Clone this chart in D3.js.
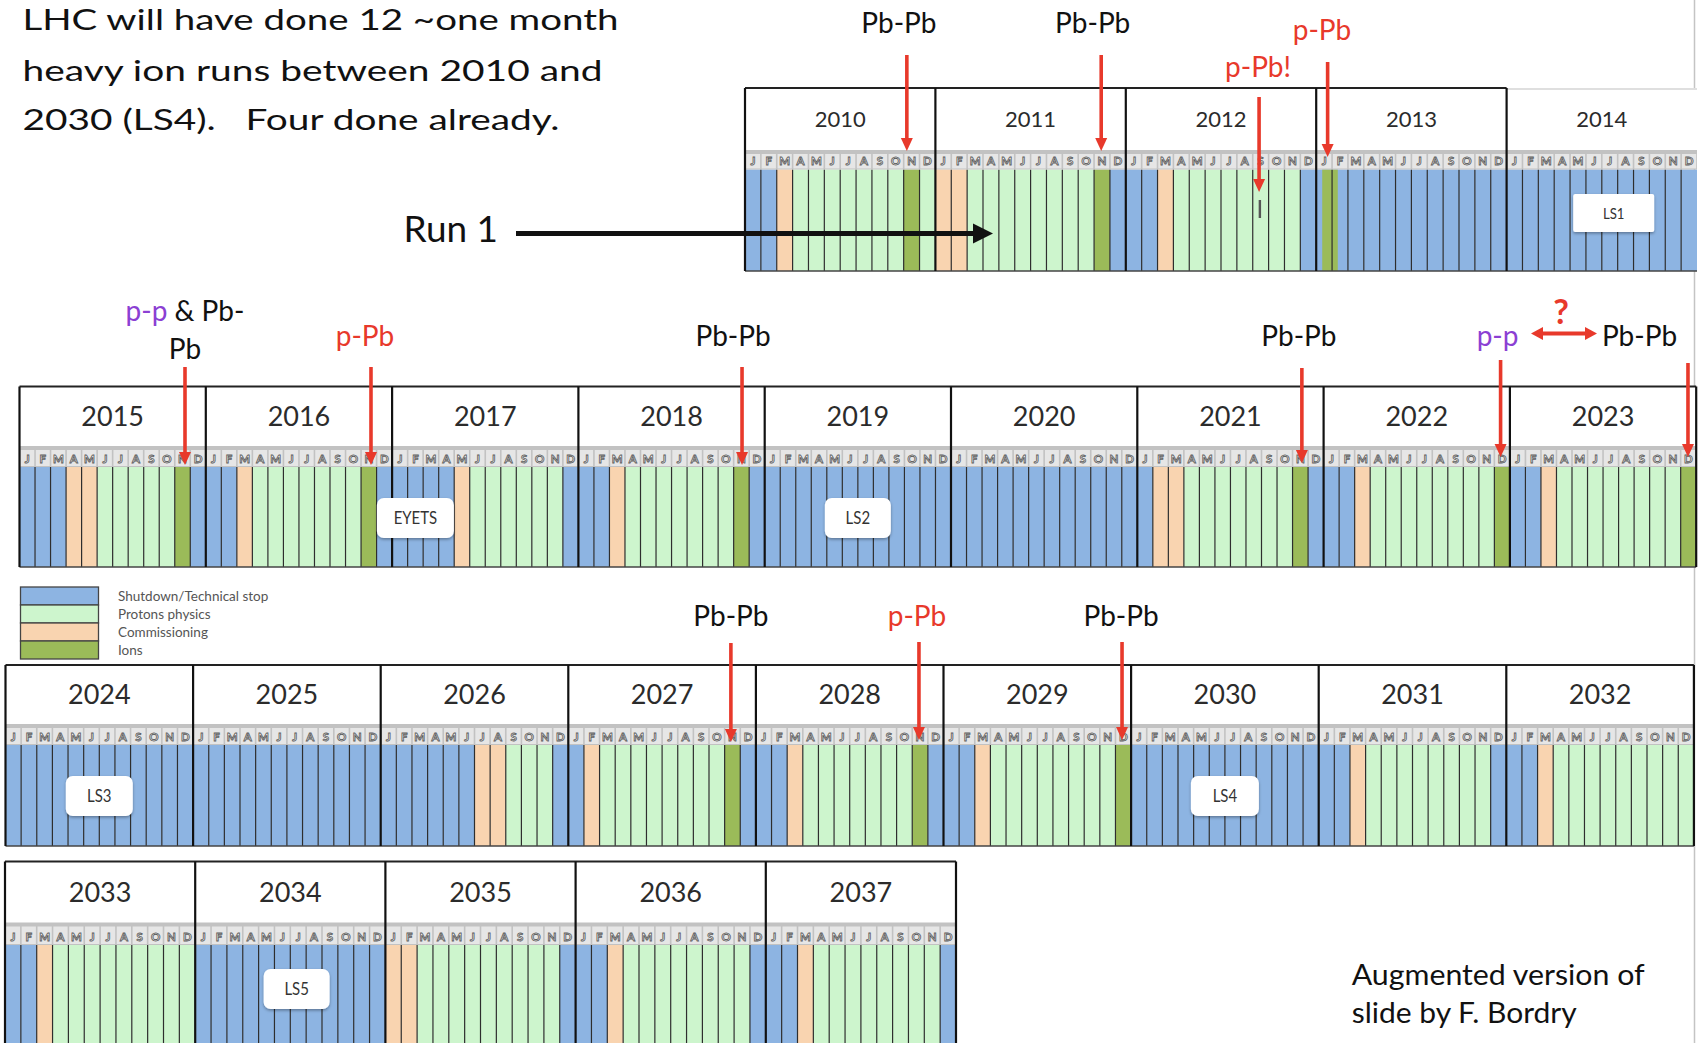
<!DOCTYPE html>
<html><head><meta charset="utf-8">
<script src="https://cdn.jsdelivr.net/npm/d3@7"></script>
<style>html,body{margin:0;padding:0;background:#fff;} svg{display:block;}</style>
</head><body>
<svg id="c" width="1698" height="1043"></svg>
<script>
// ---------------- DATA ----------------
const monthLabels = ["J","F","M","A","M","J","J","A","S","O","N","D"];
const years = [2010,2011,2012,2013,2014,2015,2016,2017,2018,2019,2020,2021,2022,2023,
               2024,2025,2026,2027,2028,2029,2030,2031,2032,2033,2034,2035,2036,2037];
const rowYears = [
  [2010,2011,2012,2013,2014],
  [2015,2016,2017,2018,2019,2020,2021,2022,2023],
  [2024,2025,2026,2027,2028,2029,2030,2031,2032],
  [2033,2034,2035,2036,2037]
];
// S = shutdown/technical stop, P = protons physics, C = commissioning, I = ions (one letter per month)
const monthStates = [
  "SSCPPPPPPPIP", // 2010
  "CCPPPPPPPPIS", // 2011
  "SSCPPPPPPPPS", // 2012
  "SSSSSSSSSSSS", // 2013
  "SSSSSSSSSSSS", // 2014
  "SSSCCPPPPPIS", // 2015
  "SSCPPPPPPPIS", // 2016
  "SSSSCPPPPPPS", // 2017
  "SSCPPPPPPPIS", // 2018
  "SSSSSSSSSSSS", // 2019
  "SSSSSSSSSSSS", // 2020
  "SCCPPPPPPPIS", // 2021
  "SSCPPPPPPPPI", // 2022
  "SSCPPPPPPPPI", // 2023
  "SSSSSSSSSSSS", // 2024
  "SSSSSSSSSSSS", // 2025
  "SSSSSSCCPPPS", // 2026
  "SCPPPPPPPPIS", // 2027
  "SSCPPPPPPPIS", // 2028
  "SSCPPPPPPPPI", // 2029
  "SSSSSSSSSSSS", // 2030
  "SSCPPPPPPPPS", // 2031
  "SSCPPPPPPPPP", // 2032
  "SSCPPPPPPPPP", // 2033
  "SSSSSSSSSSSS", // 2034
  "CCPPPPPPPPPS", // 2035
  "SSCPPPPPPPPS", // 2036
  "SSCPPPPPPPPS"  // 2037
];
// runs that do not start on a month boundary (year, start month, end month, state)
const partialYears  = [2013];
const partialStarts = [0.38];
const partialEnds   = [1.36];
const partialStates = ["I"];
// short pilot p-Pb run in 2012
const pilotYear = 2012, pilotMonth = 8.45;

const stateKeys   = ["S","P","C","I"];
const stateNames  = ["Shutdown/Technical stop","Protons physics","Commissioning","Ions"];

// long shutdown / stop labels
const stopLabels = ["LS1","EYETS","LS2","LS3","LS4","LS5"];
const stopYears  = [2014,2017,2019,2024,2030,2034];
const stopMonths = [6.75,1.5,6.0,6.0,6.0,6.4];

// heavy-ion run annotations (arrow positions in year / month)
const runSystems = ["Pb-Pb","Pb-Pb","p-Pb!","p-Pb","p-p & Pb-Pb","p-Pb","Pb-Pb","Pb-Pb","p-p","","Pb-Pb","p-Pb","Pb-Pb"];
const runYears   = [2010,2011,2012,2013,2015,2016,2018,2021,2022,2023,2027,2028,2029];
const runMonths  = [10.2,10.45,8.4,0.72,10.66,10.64,10.54,10.6,11.4,11.47,10.4,10.43,11.42];

const titleLines = ["LHC will have done 12 ~one month","heavy ion runs between 2010 and","2030 (LS4).   Four done already."];
const creditLines = ["Augmented version of","slide by F. Bordry"];
const runLabel = "Run 1";

// ---------------- STYLE / LAYOUT ----------------
const stateColors = ["#8db4e2","#cdf5cd","#f9d4b0","#9bbb59"];
const color = d3.scaleOrdinal().domain(stateKeys).range(stateColors);
const RED = "#e8392b", PURPLE = "#8b40d3", BLACK = "#111";
const sysColor = s => s.startsWith("p-p") ? PURPLE : (s.startsWith("p-Pb") ? RED : BLACK);
const FONT = "Lato, 'Open Sans', sans-serif";

const rowLayout = [
  {left:745,  yw:190.4, top:88,    strip:150,   bars:169.5, bottom:271,  boxed:4, yearFont:22, labelY:213},
  {left:19.5, yw:186.3, top:386.5, strip:446,   bars:467,   bottom:567,  boxed:9, yearFont:27, labelY:518},
  {left:5.5,  yw:187.6, top:665,   strip:724,   bars:745,   bottom:846,  boxed:9, yearFont:27, labelY:796},
  {left:5,    yw:190.2, top:861.5, strip:922.5, bars:945,   bottom:1050, boxed:5, yearFont:27, labelY:989}
];
const stopBoxW = [81,77,66,67,68,66];
// per-annotation layout: label dx from arrow, label centre y, arrow top, arrow tip
const arrowLayout = [
  {dx:-8,  ly:23,  y0:55,  y1:151},
  {dx:-8.5,ly:23,  y0:55,  y1:151},
  {dx:-1,  ly:67,  y0:97,  y1:192},
  {dx:-5.6,ly:30,  y0:62,  y1:157},
  {dx:0,   ly:311, y0:367, y1:465},
  {dx:-6,  ly:336, y0:367, y1:465},
  {dx:-9,  ly:336, y0:367, y1:465},
  {dx:-3,  ly:336, y0:368, y1:463},
  {dx:-3,  ly:336, y0:360, y1:457},
  {dx:0,   ly:336, y0:363, y1:457},
  {dx:0,   ly:616, y0:643, y1:742},
  {dx:-2,  ly:616, y0:642, y1:740},
  {dx:-1,  ly:616, y0:642, y1:740}
];
const LABEL_FS = 28;

const svg = d3.select("#c");
const defs = svg.append("defs");
const sh = defs.append("filter").attr("id","sh").attr("x","-20%").attr("y","-20%").attr("width","140%").attr("height","160%");
sh.append("feDropShadow").attr("dx",0).attr("dy",1.5).attr("stdDeviation",1.5).attr("flood-color","#000").attr("flood-opacity",0.35);

// slide border on the right
svg.append("line").attr("x1",1694.5).attr("x2",1694.5).attr("y1",0).attr("y2",1043)
  .attr("stroke","#c4c4c4").attr("stroke-width",1.5);

const scales = {};
rowYears.forEach((ys, r) => {
  const L = rowLayout[r];
  const n = ys.length;
  const x = d3.scaleLinear().domain([0, n*12]).range([L.left, L.left + n*L.yw]);
  const yearIdx = d3.scaleOrdinal().domain(ys).range(d3.range(n));
  scales[r] = {x, yearIdx};
  const g = svg.append("g");

  // month cells (bars)
  const cells = ys.flatMap((yr, i) => monthStates[years.indexOf(yr)].split("").map((s, m) => ({yr, i, m, s})));
  g.selectAll("rect.bar").data(cells).join("rect").attr("class","bar")
    .attr("x", d => x(d.i*12 + d.m)).attr("width", d => x(d.i*12 + d.m + 1) - x(d.i*12 + d.m))
    .attr("y", L.bars).attr("height", L.bottom - L.bars)
    .attr("fill", d => color(d.s));

  // partial segments
  partialYears.forEach((py, k) => {
    if (!ys.includes(py)) return;
    const i = yearIdx(py);
    g.append("rect").attr("x", x(i*12 + partialStarts[k])).attr("width", x(i*12 + partialEnds[k]) - x(i*12 + partialStarts[k]))
      .attr("y", L.bars).attr("height", L.bottom - L.bars).attr("fill", color(partialStates[k]));
  });

  // month divider lines in bars
  const divs = d3.range(0, n*12 + 1).filter(k => k % 12 !== 0);
  g.selectAll("line.md").data(divs).join("line").attr("class","md")
    .attr("x1", k => x(k)).attr("x2", k => x(k)).attr("y1", L.bars).attr("y2", L.bottom)
    .attr("stroke", "#2e2e2e").attr("stroke-width", 1.2);

  // header (white) per year
  g.selectAll("rect.hd").data(ys).join("rect").attr("class","hd")
    .attr("x", (d,i) => x(i*12)).attr("width", L.yw).attr("y", L.top).attr("height", L.strip - L.top)
    .attr("fill", "#fff");
  g.selectAll("text.yr").data(ys).join("text").attr("class","yr")
    .attr("x", (d,i) => x(i*12 + 6)).attr("y", (L.top + L.strip)/2 + L.yearFont*0.36)
    .attr("text-anchor","middle").attr("font-family", FONT).attr("font-size", L.yearFont)
    .attr("fill", "#2b2b2b").text(d => d);

  // month strip
  g.selectAll("rect.st").data(ys).join("rect").attr("class","st")
    .attr("x", (d,i) => x(i*12)).attr("width", L.yw).attr("y", L.strip).attr("height", L.bars - L.strip)
    .attr("fill", "#c2c2c2");
  const mcells = ys.flatMap((yr, i) => monthLabels.map((lab, m) => ({i, m, lab})));
  g.selectAll("rect.mc").data(mcells).join("rect").attr("class","mc")
    .attr("x", d => x(d.i*12 + d.m) + 0.8).attr("width", d => x(d.i*12 + d.m + 1) - x(d.i*12 + d.m) - 1.6)
    .attr("y", L.strip + 4).attr("height", L.bars - L.strip - 5)
    .attr("fill", "#e6e6e6");
  g.selectAll("text.ml").data(mcells).join("text").attr("class","ml")
    .attr("x", d => x(d.i*12 + d.m + 0.5)).attr("y", L.bars - 4.5)
    .attr("text-anchor","middle").attr("font-family", FONT).attr("font-weight","bold").attr("font-size", 11.5)
    .attr("fill", "#f8f8f8").attr("stroke","#5e5e5e").attr("stroke-width",0.85).text(d => d.lab);

  // frame lines
  const boxedEnd = x(L.boxed*12);
  const frameC = "#222";
  g.append("line").attr("x1", x(0)).attr("x2", boxedEnd).attr("y1", L.top).attr("y2", L.top)
    .attr("stroke", frameC).attr("stroke-width", 2.2);
  if (L.boxed < n) {
    g.append("line").attr("x1", boxedEnd).attr("x2", x(n*12)).attr("y1", L.top + 1).attr("y2", L.top + 1)
      .attr("stroke", "#d4d4d4").attr("stroke-width", 1.5);
  }
  g.append("line").attr("x1", x(0)).attr("x2", x(n*12)).attr("y1", L.bottom).attr("y2", L.bottom)
    .attr("stroke", "#444").attr("stroke-width", 1.6);
  const seps = d3.range(0, Math.min(L.boxed, n) + 1);
  g.selectAll("line.ys").data(seps).join("line").attr("class","ys")
    .attr("x1", i => x(i*12)).attr("x2", i => x(i*12)).attr("y1", L.top).attr("y2", L.bottom)
    .attr("stroke", "#111").attr("stroke-width", 2.2);
});

// pilot p-Pb marker in 2012
(function(){
  const r = rowYears.findIndex(ys => ys.includes(pilotYear));
  const {x, yearIdx} = scales[r];
  const px = x(yearIdx(pilotYear)*12 + pilotMonth);
  svg.append("rect").attr("x", px - 1.2).attr("width", 2.4).attr("y", 200).attr("height", 18).attr("fill", "#555");
})();

// long-shutdown label boxes
stopLabels.forEach((lab, k) => {
  const r = rowYears.findIndex(ys => ys.includes(stopYears[k]));
  const L = rowLayout[r];
  const {x, yearIdx} = scales[r];
  const cx = x(yearIdx(stopYears[k])*12 + stopMonths[k]);
  const w = stopBoxW[k], h = lab === "LS1" ? 38 : 40;
  svg.append("rect").attr("x", cx - w/2).attr("y", L.labelY - h/2).attr("width", w).attr("height", h)
    .attr("rx", lab === "LS1" ? 2 : 7).attr("fill", "#fff").attr("filter","url(#sh)");
  svg.append("text").attr("x", cx).attr("y", L.labelY + 6).attr("text-anchor","middle")
    .attr("font-family", FONT).attr("font-size", lab === "LS1" ? 15 : 17).attr("fill","#333")
    .attr("transform", `translate(${cx},0) scale(0.88,1) translate(${-cx},0)`)
    .text(lab);
});

// arrows
function vArrow(xp, y0, y1, col) {
  const hl = 13, hw = 6;
  svg.append("line").attr("x1", xp).attr("x2", xp).attr("y1", y0).attr("y2", y1 - hl + 1)
    .attr("stroke", col).attr("stroke-width", 3.6);
  svg.append("path").attr("d", `M${xp-hw},${y1-hl} L${xp+hw},${y1-hl} L${xp},${y1} Z`).attr("fill", col);
}

runSystems.forEach((sys, k) => {
  const r = rowYears.findIndex(ys => ys.includes(runYears[k]));
  const {x, yearIdx} = scales[r];
  const ax = x(yearIdx(runYears[k])*12 + runMonths[k]);
  const A = arrowLayout[k];
  vArrow(ax, A.y0, A.y1, RED);
  const lx = ax + A.dx;
  const base = A.ly + LABEL_FS*0.36;
  if (sys === "p-p & Pb-Pb") {
    const t = svg.append("text").attr("x", lx).attr("y", base).attr("text-anchor","middle")
      .attr("font-family", FONT).attr("font-size", LABEL_FS).style("white-space","pre");
    t.append("tspan").attr("fill", PURPLE).text("p-p");
    t.append("tspan").attr("fill", BLACK).text(" & Pb-");
    svg.append("text").attr("x", lx).attr("y", base + 38).attr("text-anchor","middle")
      .attr("font-family", FONT).attr("font-size", LABEL_FS).attr("fill", BLACK).text("Pb");
  } else if (sys) {
    svg.append("text").attr("x", lx).attr("y", base).attr("text-anchor","middle")
      .attr("font-family", FONT).attr("font-size", LABEL_FS).attr("fill", sysColor(sys)).text(sys);
  }
});

// p-p <-> Pb-Pb ambiguity for 2022/2023
(function(){
  const y = 333.5, x0 = 1531, x1 = 1597, hl = 12, hw = 6.5;
  svg.append("line").attr("x1", x0 + hl - 1).attr("x2", x1 - hl + 1).attr("y1", y).attr("y2", y)
    .attr("stroke", RED).attr("stroke-width", 4);
  svg.append("path").attr("d", `M${x0},${y} L${x0+hl},${y-hw} L${x0+hl},${y+hw} Z`).attr("fill", RED);
  svg.append("path").attr("d", `M${x1},${y} L${x1-hl},${y-hw} L${x1-hl},${y+hw} Z`).attr("fill", RED);
  svg.append("text").attr("x", 1561).attr("y", 324).attr("text-anchor","middle")
    .attr("font-family", FONT).attr("font-weight","bold").attr("font-size", 34).attr("fill", RED).text("?");
  svg.append("text").attr("x", 1639.5).attr("y", 336 + LABEL_FS*0.36).attr("text-anchor","middle")
    .attr("font-family", FONT).attr("font-size", LABEL_FS).attr("fill", BLACK).text("Pb-Pb");
})();

// Run 1 arrow
svg.append("text").attr("x", 403.5).attr("y", 242).attr("font-family", FONT).attr("font-size", 36)
  .attr("fill", BLACK).attr("textLength", 94.5).attr("lengthAdjust","spacingAndGlyphs").text(runLabel);
svg.append("line").attr("x1", 516).attr("x2", 976).attr("y1", 233.5).attr("y2", 233.5)
  .attr("stroke", BLACK).attr("stroke-width", 5);
svg.append("path").attr("d", "M993,233.5 L973,223.5 L973,243.5 Z").attr("fill", BLACK);

// title paragraph
const titleW = [596, 580, 537];
const titleBase = [30, 80.5, 130];
titleLines.forEach((t, i) => {
  svg.append("text").attr("x", 22.5).attr("y", titleBase[i]).attr("font-family", FONT).attr("font-size", 29.5)
    .attr("fill", BLACK).style("white-space","pre")
    .attr("textLength", titleW[i]).attr("lengthAdjust","spacingAndGlyphs").text(t);
});

// credit
const creditW = [293, 225];
const creditBase = [985, 1023];
creditLines.forEach((t, i) => {
  svg.append("text").attr("x", 1351.7).attr("y", creditBase[i]).attr("font-family", FONT).attr("font-size", 29)
    .attr("fill", BLACK).attr("textLength", creditW[i]).attr("lengthAdjust","spacingAndGlyphs").text(t);
});

// legend
const legY = [587, 605, 623, 641];
stateKeys.forEach((k, i) => {
  svg.append("rect").attr("x", 20.5).attr("y", legY[i]).attr("width", 78).attr("height", 18)
    .attr("fill", color(k)).attr("stroke", "#444").attr("stroke-width", 1.3);
  svg.append("text").attr("x", 118).attr("y", legY[i] + 13.5).attr("font-family", FONT).attr("font-size", 13.5)
    .attr("fill", "#555").text(stateNames[i]);
});
</script>
</body></html>
